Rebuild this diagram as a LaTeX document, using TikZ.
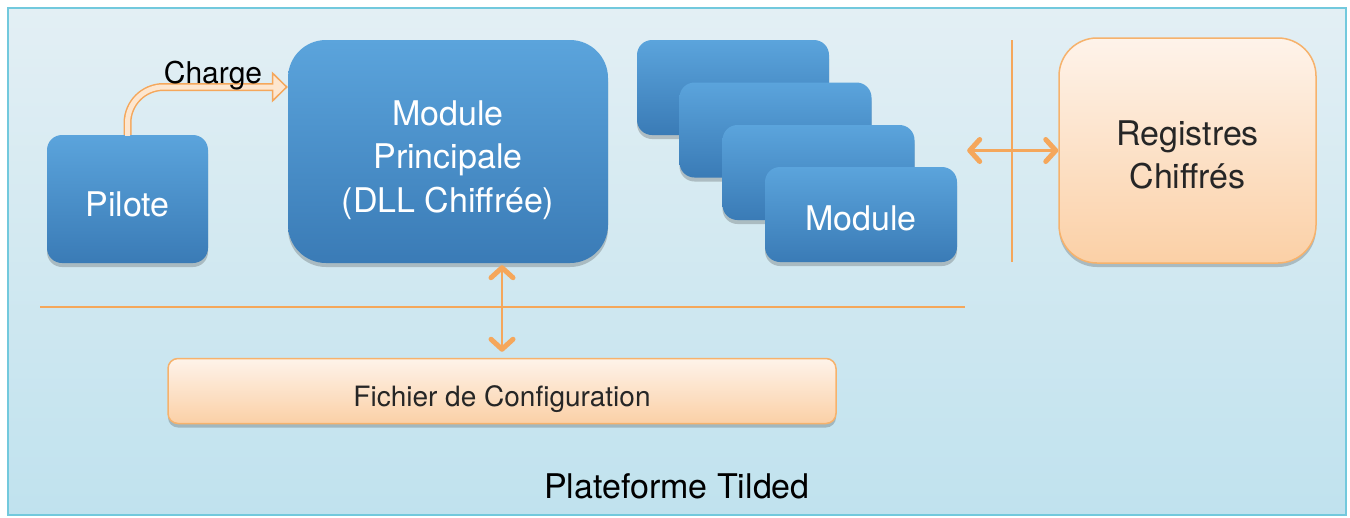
\documentclass[tikz,border=0pt]{standalone}
\usepackage{fontspec}
\setmainfont{TeX Gyre Heros}
\usetikzlibrary{arrows.meta,shadows}

\definecolor{bluetop}{HTML}{5BA4DC}
\definecolor{bluebot}{HTML}{3A7BB6}
\definecolor{peachtop}{HTML}{FEF3EA}
\definecolor{peachbot}{HTML}{FBD0A6}
\definecolor{peachline}{HTML}{F6B26C}
\definecolor{arrowcol}{HTML}{F5A75B}
\definecolor{chargefill}{HTML}{FDE6CF}
\definecolor{bgtop}{HTML}{E3EFF4}
\definecolor{bgbot}{HTML}{C0E2EE}
\definecolor{bgline}{HTML}{72C9DD}

\newcommand\boxfont{\fontsize{34}{43.5}\selectfont}
\newcommand\chargefont{\fontsize{30}{36}\selectfont}
\newcommand\cfgfont{\fontsize{28}{33}\selectfont}

\tikzset{
  shadowed/.style={drop shadow={shadow xshift=0pt,shadow yshift=-4pt,opacity=0.25,fill=black!80}},
  bluebox/.style={shadowed,rounded corners=15pt,top color=bluetop,bottom color=bluebot,
    text=white,font=\boxfont,align=center,inner sep=0pt},
  peachbox/.style={shadowed,top color=peachtop,bottom color=peachbot,draw=peachline,
    line width=1.5pt,text=black!85,align=center,inner sep=0pt},
  sepline/.style={draw=arrowcol,line width=1.8pt},
  dblarrow/.style={draw=arrowcol,line width=2.2pt,
    {Straight Barb[length=10pt,width=22pt,line width=5pt 0,round]}-{Straight Barb[length=10pt,width=22pt,line width=5pt 0,round]}},
}

\begin{document}
\begin{tikzpicture}[x=1pt,y=-1pt]
\useasboundingbox (0,0) rectangle (1350,517);
% platform frame
\draw[draw=bgline,line width=2pt,top color=bgtop,bottom color=bgbot] (8,8) rectangle (1346,515);
\node[font=\boxfont] (plateforme) at (677,486) {Plateforme Tilded};

% boxes
\node[bluebox,minimum width=161pt,minimum height=128pt,text height=34pt,text depth=0pt] (pilote) at (127.5,199) {Pilote};
\node[bluebox,rounded corners=38pt,minimum width=320pt,minimum height=223pt,text height=128.8pt] (principal) at (448,151.5) {Module\\Principale\\(DLL Chiffrée)};
\foreach \i/\x/\y in {1/733/87.5,2/775.5/130,3/818.5/172.5}
  \node[bluebox,minimum width=192pt,minimum height=95pt] (mod\i) at (\x,\y) {};
\node[bluebox,minimum width=192pt,minimum height=95pt,text height=32pt,text depth=0pt] (mod4) at (861,214.5) {Module};
\node[peachbox,rounded corners=38pt,minimum width=257pt,minimum height=225pt,font=\boxfont,text height=76.8pt] (registres) at (1187.5,150.5) {Registres\\Chiffrés};
\node[peachbox,rounded corners=10pt,minimum width=668pt,minimum height=65pt,font=\cfgfont,text height=30pt,text depth=0pt] (config) at (502,391) {Fichier de Configuration};

% separators
\draw[sepline] (40,307) -- (965,307);
\draw[sepline] (1012,40) -- (1012,262);

% Charge
\draw[arrowcol,line width=8pt,rounded corners=36pt,
  -{Triangle[length=16pt,width=31pt,line width=1.5pt 0,fill=chargefill]}]
  (pilote.north) |- ([yshift=64.5pt]principal.west);
\draw[chargefill,line width=5pt,rounded corners=36pt,shorten >=13pt]
  ([yshift=-1pt]pilote.north) |- ([yshift=64.5pt]principal.west);
\node[font=\chargefont,inner sep=0pt] (chargelbl) at (213,76) {Charge};

% links
\coordinate (modright) at ([xshift=10pt]mod4.east);
\draw[dblarrow] (modright |- registres.west) -- (registres.west);
\draw[dblarrow,shorten <=2pt,shorten >=6pt] (config.north |- principal.south) -- (config.north);
\end{tikzpicture}
\end{document}
